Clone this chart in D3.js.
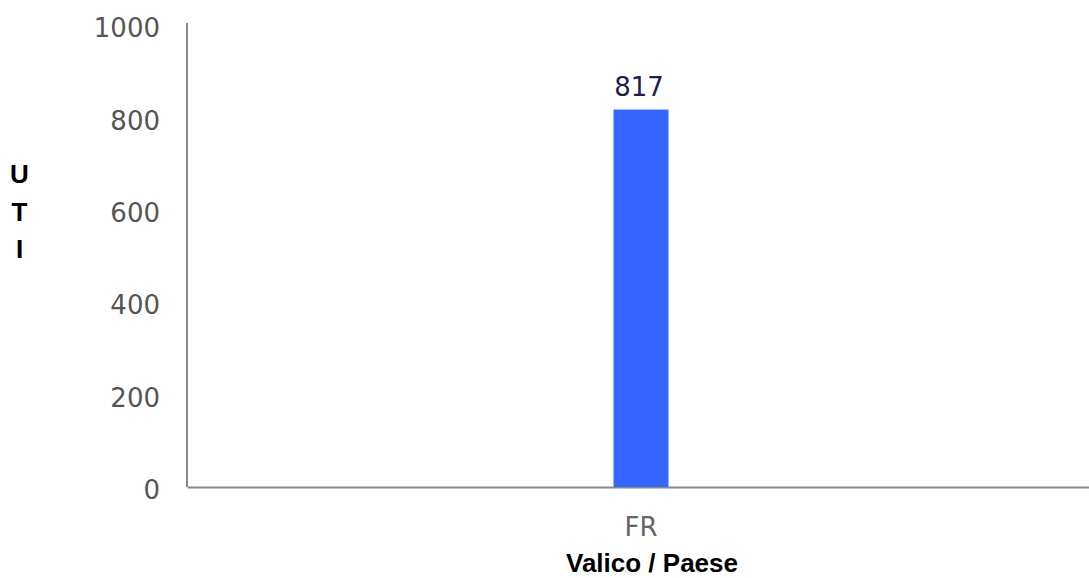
<!DOCTYPE html>
<html>
<head>
<meta charset="utf-8">
<script src="https://cdn.jsdelivr.net/npm/d3@7"></script>
<style>
  body { margin: 0; background: #fff; }
</style>
</head>
<body>
<div id="chart"></div>
<script>
const categories = ["FR"];
const values = [817];
const yTicks = [0, 200, 400, 600, 800, 1000];
const yTitle = ["U", "T", "I"];
const xTitle = "Valico / Paese";

const W = 1089, H = 578;
const margin = {top: 25, right: 0, bottom: 91, left: 187};
const width = W - margin.left - margin.right;
const height = H - margin.top - margin.bottom;

const svg = d3.select("#chart").append("svg")
    .attr("width", W)
    .attr("height", H);

const g = svg.append("g")
    .attr("transform", "translate(" + margin.left + "," + margin.top + ")");

// band a bit wider than the visible area so the bar sits where it does in the original
const x = d3.scaleBand().domain(categories).range([0, width + 6]).paddingInner(0.94).paddingOuter(0.47);
const y = d3.scaleLinear().domain([0, 1000]).range([height, 0]);

// y axis
const yAxis = g.append("g")
    .call(d3.axisLeft(y).tickValues(yTicks).tickFormat(d3.format("d")).tickSize(0).tickPadding(27));
yAxis.select(".domain").attr("stroke", "#888").attr("stroke-width", 2).attr("d", "M0," + height + "V-2");
yAxis.selectAll("text")
    .attr("dy", "0.45em")
    .attr("fill", "#555")
    .style("font-family", "DejaVu Sans")
    .style("font-size", "26px");

// x axis
const xAxis = g.append("g")
    .attr("transform", "translate(0," + height + ")")
    .call(d3.axisBottom(x).tickSize(0));
xAxis.select(".domain").attr("stroke", "#888").attr("stroke-width", 2);
xAxis.selectAll("text")
    .attr("dy", null)
    .attr("y", 49)
    .attr("fill", "#666")
    .style("font-family", "DejaVu Sans")
    .style("font-size", "26px");

// bars
const bw = 55;
g.selectAll(".bar")
    .data(values)
    .enter().append("rect")
    .attr("class", "bar")
    .attr("x", function(d, i) { return x(categories[i]) + x.bandwidth() / 2 - bw / 2; })
    .attr("width", bw)
    .attr("y", function(d) { return y(d); })
    .attr("height", function(d) { return height - y(d); })
    .attr("fill", "#3366ff");

// value labels
g.selectAll(".lbl")
    .data(values)
    .enter().append("text")
    .attr("class", "lbl")
    .attr("x", function(d, i) { return x(categories[i]) + x.bandwidth() / 2 - 2; })
    .attr("y", function(d) { return y(d) - 14; })
    .attr("text-anchor", "middle")
    .attr("fill", "#1e1e50")
    .style("font-family", "DejaVu Sans")
    .style("font-size", "26px")
    .text(function(d) { return d; });

// titles
svg.append("text")
    .attr("x", 652)
    .attr("y", 572)
    .attr("text-anchor", "middle")
    .style("font-family", "Liberation Sans, Arial")
    .style("font-weight", "bold")
    .style("font-size", "26px")
    .attr("fill", "#000")
    .text(xTitle);

svg.selectAll(".ytitle")
    .data(yTitle)
    .enter().append("text")
    .attr("class", "ytitle")
    .attr("x", 19.5)
    .attr("y", function(d, i) { return 183 + i * 37.5; })
    .attr("text-anchor", "middle")
    .style("font-family", "Liberation Sans, Arial")
    .style("font-weight", "bold")
    .style("font-size", "26px")
    .attr("fill", "#000")
    .text(function(d) { return d; });
</script>
</body>
</html>
